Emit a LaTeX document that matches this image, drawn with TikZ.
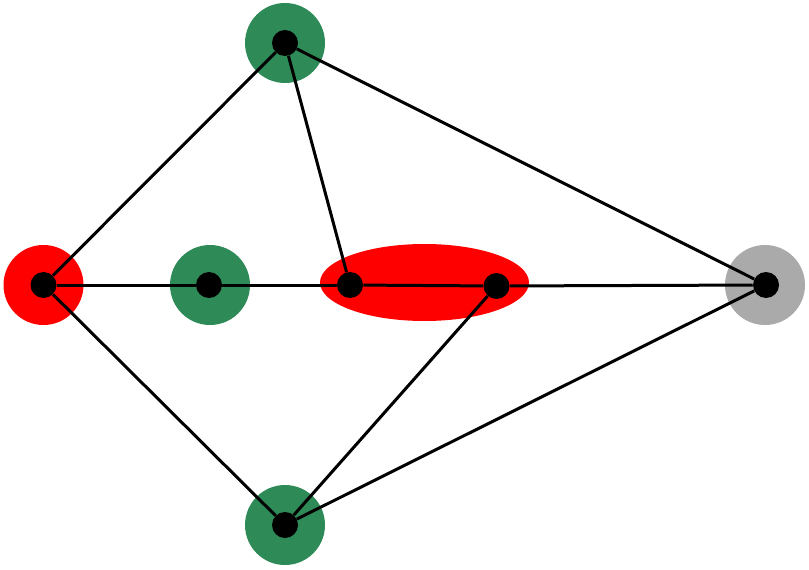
\documentclass[tikz,border=0pt]{standalone}
\usepackage{tikz}
\usetikzlibrary{shapes.geometric}
\definecolor{halogreen}{RGB}{46,139,87}
\definecolor{halogray}{RGB}{170,170,170}
\tikzset{
  halo/.style={circle, minimum size=60pt, inner sep=0pt},
  vtx/.style={circle, fill=black, minimum size=19.5pt, inner sep=0pt},
  edge/.style={line width=2.25pt}
}
\begin{document}
\begin{tikzpicture}[x=0.75pt,y=0.75pt,yscale=-1,xscale=1]
\useasboundingbox (0,0) rectangle (809,570);

% halos
\node [halo, fill=red] (hl) at (43.5,285) {};
\node [halo, fill=halogreen] (hm) at (210,285) {};
\node [halo, fill=halogreen] (ht) at (285,43) {};
\node [halo, fill=halogreen] (hb) at (285,525) {};
\node [halo, fill=halogray] (hr) at (765,285) {};
\node [ellipse, fill=red, minimum width=156.75pt, minimum height=57.75pt, inner sep=0pt] (he) at (424.5,282.5) {};

% vertices
\node [vtx] (l) at (43.5,285) {};
\node [vtx] (m) at (209,285) {};
\node [vtx] (t) at (285,43) {};
\node [vtx] (b) at (285,525) {};
\node [vtx] (p) at (350,285) {};
\node [vtx] (q) at (496.5,286) {};
\node [vtx] (r) at (766,285) {};

% edges
\draw [edge] (l) -- (t);
\draw [edge] (l) -- (m);
\draw [edge] (l) -- (b);
\draw [edge] (m) -- (p);
\draw [edge] (t) -- (p);
\draw [edge] (t) -- (r);
\draw [edge] (p) -- (q);
\draw [edge] (q) -- (r);
\draw [edge] (q) -- (b);
\draw [edge] (b) -- (r);

\end{tikzpicture}
\end{document}
